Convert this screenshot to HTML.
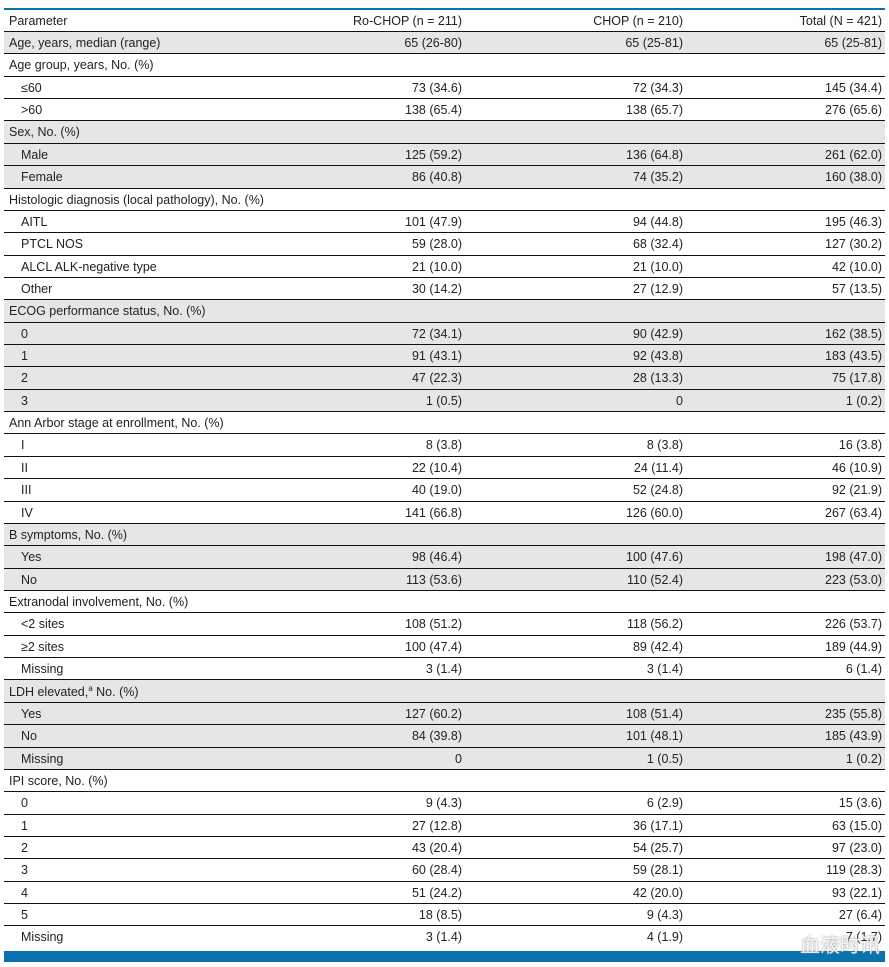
<!DOCTYPE html>
<html><head><meta charset="utf-8"><style>
body{margin:0;width:889px;height:967px;background:#fff;font-family:"Liberation Sans",Arial,sans-serif;font-size:12.5px;color:#222;position:relative;overflow:hidden}
.top{position:absolute;left:4px;width:881px;top:8px;height:2px;background:#0a72ae}
.bot{position:absolute;left:4px;width:881px;top:951px;height:11px;background:#0a72ae}
.tbl{position:absolute;left:4px;width:881px;top:10px}
.h{height:22px;border-bottom:1.3px solid #111;position:relative;box-sizing:border-box}
.r{height:22.37px;border-bottom:1.3px solid #111;position:relative;box-sizing:border-box}
.r:last-child{border-bottom:none}
.g{background:#e6e6e6}
.h span,.r span{position:absolute;top:4px;white-space:nowrap}
.l{left:5px}.i{left:17px}
.a{right:423px}.b{right:202px}.c{right:3px}
.wm{position:absolute;left:800px;top:929px;font-family:"Noto Sans CJK SC",sans-serif;font-size:20px;color:rgba(255,255,255,0.85);text-shadow:0 0 2px #888}
</style></head><body>
<div class="top"></div>
<div class="tbl">
<div class="h"><span class="l">Parameter</span><span class="a">Ro-CHOP (n = 211)</span><span class="b">CHOP (n = 210)</span><span class="c">Total (N = 421)</span></div>
<div class="r g"><span class="l">Age, years, median (range)</span><span class="a">65 (26-80)</span><span class="b">65 (25-81)</span><span class="c">65 (25-81)</span></div>
<div class="r"><span class="l">Age group, years, No. (%)</span></div>
<div class="r"><span class="i">≤60</span><span class="a">73 (34.6)</span><span class="b">72 (34.3)</span><span class="c">145 (34.4)</span></div>
<div class="r"><span class="i">&gt;60</span><span class="a">138 (65.4)</span><span class="b">138 (65.7)</span><span class="c">276 (65.6)</span></div>
<div class="r g"><span class="l">Sex, No. (%)</span></div>
<div class="r g"><span class="i">Male</span><span class="a">125 (59.2)</span><span class="b">136 (64.8)</span><span class="c">261 (62.0)</span></div>
<div class="r g"><span class="i">Female</span><span class="a">86 (40.8)</span><span class="b">74 (35.2)</span><span class="c">160 (38.0)</span></div>
<div class="r"><span class="l">Histologic diagnosis (local pathology), No. (%)</span></div>
<div class="r"><span class="i">AITL</span><span class="a">101 (47.9)</span><span class="b">94 (44.8)</span><span class="c">195 (46.3)</span></div>
<div class="r"><span class="i">PTCL NOS</span><span class="a">59 (28.0)</span><span class="b">68 (32.4)</span><span class="c">127 (30.2)</span></div>
<div class="r"><span class="i">ALCL ALK-negative type</span><span class="a">21 (10.0)</span><span class="b">21 (10.0)</span><span class="c">42 (10.0)</span></div>
<div class="r"><span class="i">Other</span><span class="a">30 (14.2)</span><span class="b">27 (12.9)</span><span class="c">57 (13.5)</span></div>
<div class="r g"><span class="l">ECOG performance status, No. (%)</span></div>
<div class="r g"><span class="i">0</span><span class="a">72 (34.1)</span><span class="b">90 (42.9)</span><span class="c">162 (38.5)</span></div>
<div class="r g"><span class="i">1</span><span class="a">91 (43.1)</span><span class="b">92 (43.8)</span><span class="c">183 (43.5)</span></div>
<div class="r g"><span class="i">2</span><span class="a">47 (22.3)</span><span class="b">28 (13.3)</span><span class="c">75 (17.8)</span></div>
<div class="r g"><span class="i">3</span><span class="a">1 (0.5)</span><span class="b">0</span><span class="c">1 (0.2)</span></div>
<div class="r"><span class="l">Ann Arbor stage at enrollment, No. (%)</span></div>
<div class="r"><span class="i">I</span><span class="a">8 (3.8)</span><span class="b">8 (3.8)</span><span class="c">16 (3.8)</span></div>
<div class="r"><span class="i">II</span><span class="a">22 (10.4)</span><span class="b">24 (11.4)</span><span class="c">46 (10.9)</span></div>
<div class="r"><span class="i">III</span><span class="a">40 (19.0)</span><span class="b">52 (24.8)</span><span class="c">92 (21.9)</span></div>
<div class="r"><span class="i">IV</span><span class="a">141 (66.8)</span><span class="b">126 (60.0)</span><span class="c">267 (63.4)</span></div>
<div class="r g"><span class="l">B symptoms, No. (%)</span></div>
<div class="r g"><span class="i">Yes</span><span class="a">98 (46.4)</span><span class="b">100 (47.6)</span><span class="c">198 (47.0)</span></div>
<div class="r g"><span class="i">No</span><span class="a">113 (53.6)</span><span class="b">110 (52.4)</span><span class="c">223 (53.0)</span></div>
<div class="r"><span class="l">Extranodal involvement, No. (%)</span></div>
<div class="r"><span class="i">&lt;2 sites</span><span class="a">108 (51.2)</span><span class="b">118 (56.2)</span><span class="c">226 (53.7)</span></div>
<div class="r"><span class="i">≥2 sites</span><span class="a">100 (47.4)</span><span class="b">89 (42.4)</span><span class="c">189 (44.9)</span></div>
<div class="r"><span class="i">Missing</span><span class="a">3 (1.4)</span><span class="b">3 (1.4)</span><span class="c">6 (1.4)</span></div>
<div class="r g"><span class="l">LDH elevated,<sup style="font-size:8px">a</sup> No. (%)</span></div>
<div class="r g"><span class="i">Yes</span><span class="a">127 (60.2)</span><span class="b">108 (51.4)</span><span class="c">235 (55.8)</span></div>
<div class="r g"><span class="i">No</span><span class="a">84 (39.8)</span><span class="b">101 (48.1)</span><span class="c">185 (43.9)</span></div>
<div class="r g"><span class="i">Missing</span><span class="a">0</span><span class="b">1 (0.5)</span><span class="c">1 (0.2)</span></div>
<div class="r"><span class="l">IPI score, No. (%)</span></div>
<div class="r"><span class="i">0</span><span class="a">9 (4.3)</span><span class="b">6 (2.9)</span><span class="c">15 (3.6)</span></div>
<div class="r"><span class="i">1</span><span class="a">27 (12.8)</span><span class="b">36 (17.1)</span><span class="c">63 (15.0)</span></div>
<div class="r"><span class="i">2</span><span class="a">43 (20.4)</span><span class="b">54 (25.7)</span><span class="c">97 (23.0)</span></div>
<div class="r"><span class="i">3</span><span class="a">60 (28.4)</span><span class="b">59 (28.1)</span><span class="c">119 (28.3)</span></div>
<div class="r"><span class="i">4</span><span class="a">51 (24.2)</span><span class="b">42 (20.0)</span><span class="c">93 (22.1)</span></div>
<div class="r"><span class="i">5</span><span class="a">18 (8.5)</span><span class="b">9 (4.3)</span><span class="c">27 (6.4)</span></div>
<div class="r"><span class="i">Missing</span><span class="a">3 (1.4)</span><span class="b">4 (1.9)</span><span class="c">7 (1.7)</span></div>
</div>
<div class="bot"></div>
<div class="wm">血液时讯</div>
</body></html>
